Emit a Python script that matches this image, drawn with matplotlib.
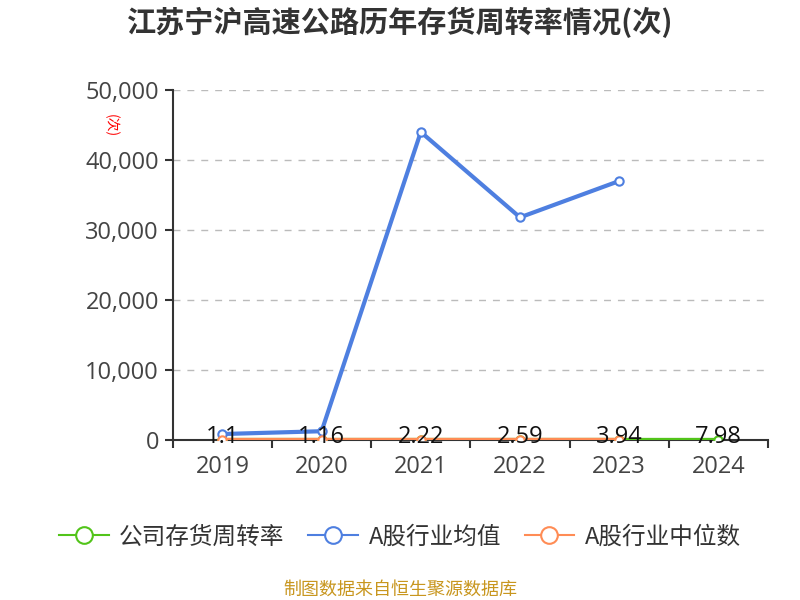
import matplotlib
matplotlib.use("Agg")
import matplotlib.pyplot as plt
from matplotlib.lines import Line2D

plt.rcParams['font.family'] = ['Noto Sans CJK SC', 'DejaVu Sans']

years = ['2019', '2020', '2021', '2022', '2023', '2024']
company = [1.1, 1.16, 2.22, 2.59, 3.94, 7.98]
industry_avg = [850, 1250, 44000, 31800, 37000]
industry_median = [8, 9, 10, 11, 12]
yticks = [0, 10000, 20000, 30000, 40000, 50000]
ytick_labels = ['0', '10,000', '20,000', '30,000', '40,000', '50,000']

green = '#52c41a'
blue = '#4e7fe0'
orange = '#ff8c55'

fig = plt.figure(figsize=(8, 6), dpi=100)
ax = fig.add_axes([0.216, 0.2667, 0.744, 0.5833])

x = list(range(len(years)))
ax.plot(x, company, color=green, lw=3, marker='o', ms=6, mfc='white', mec=green, mew=1.5, zorder=3)
ax.plot(x[:5], industry_avg, color=blue, lw=3, marker='o', ms=6, mfc='white', mec=blue, mew=1.5, zorder=4)
ax.plot(x[:5], industry_median, color=orange, lw=3, marker='o', ms=6, mfc='white', mec=orange, mew=1.5, zorder=5)

for xi, v in zip(x, company):
    ax.text(xi, v + 450, f'{v:g}', ha='center', va='center', fontsize=17, color='#111111', zorder=6,
            family=['Open Sans', 'DejaVu Sans'])

ax.set_xlim(-0.5, 5.5)
ax.set_ylim(0, 50000)
ax.set_yticks(yticks)
ax.set_yticklabels(ytick_labels)
ax.set_xticks(x)
ax.set_xticklabels(years)
ax.set_xticks([i - 0.5 for i in range(7)], minor=True)
ax.tick_params(axis='x', which='major', length=0, labelsize=17, colors='#333333', pad=11)
ax.tick_params(axis='x', which='minor', length=6, color='#333333', width=1.5)
ax.tick_params(axis='y', length=6, labelsize=17, colors='#333333', width=1.5, pad=4)
for lab in ax.get_yticklabels() + ax.get_xticklabels():
    lab.set_color('#444444')
    lab.set_family(['Open Sans', 'DejaVu Sans'])

ax.grid(axis='y', linestyle=(0, (5, 5)), color='#bbbbbb', lw=1)
ax.set_axisbelow(True)
for s in ['top', 'right']:
    ax.spines[s].set_visible(False)
ax.spines['left'].set_color('#333333')
ax.spines['left'].set_linewidth(1.5)
ax.spines['bottom'].set_color('#333333')
ax.spines['bottom'].set_linewidth(1.5)

fig.text(0.138, 0.79, '(次)', rotation=-90, color='red', fontsize=10, ha='center', va='center')

fig.text(0.5, 0.962, '江苏宁沪高速公路历年存货周转率情况(次)', ha='center', va='center',
         fontsize=21, fontweight='bold', color='#333333')

handles = [
    Line2D([], [], color=green, lw=1.5, marker='o', ms=12, mfc='white', mec=green, mew=1.5),
    Line2D([], [], color=blue, lw=1.5, marker='o', ms=12, mfc='white', mec=blue, mew=1.5),
    Line2D([], [], color=orange, lw=1.5, marker='o', ms=12, mfc='white', mec=orange, mew=1.5),
]
fig.legend(handles, ['公司存货周转率', 'A股行业均值', 'A股行业中位数'], loc='center',
           bbox_to_anchor=(0.5, 0.105), ncol=3, frameon=False, fontsize=17,
           handlelength=2.1, columnspacing=1.0, handletextpad=0.45, labelcolor='#333333')

fig.text(0.5, 0.018, '制图数据来自恒生聚源数据库', ha='center', va='center', fontsize=13, color='#c8961e')

fig.savefig('out.png', dpi=100)
